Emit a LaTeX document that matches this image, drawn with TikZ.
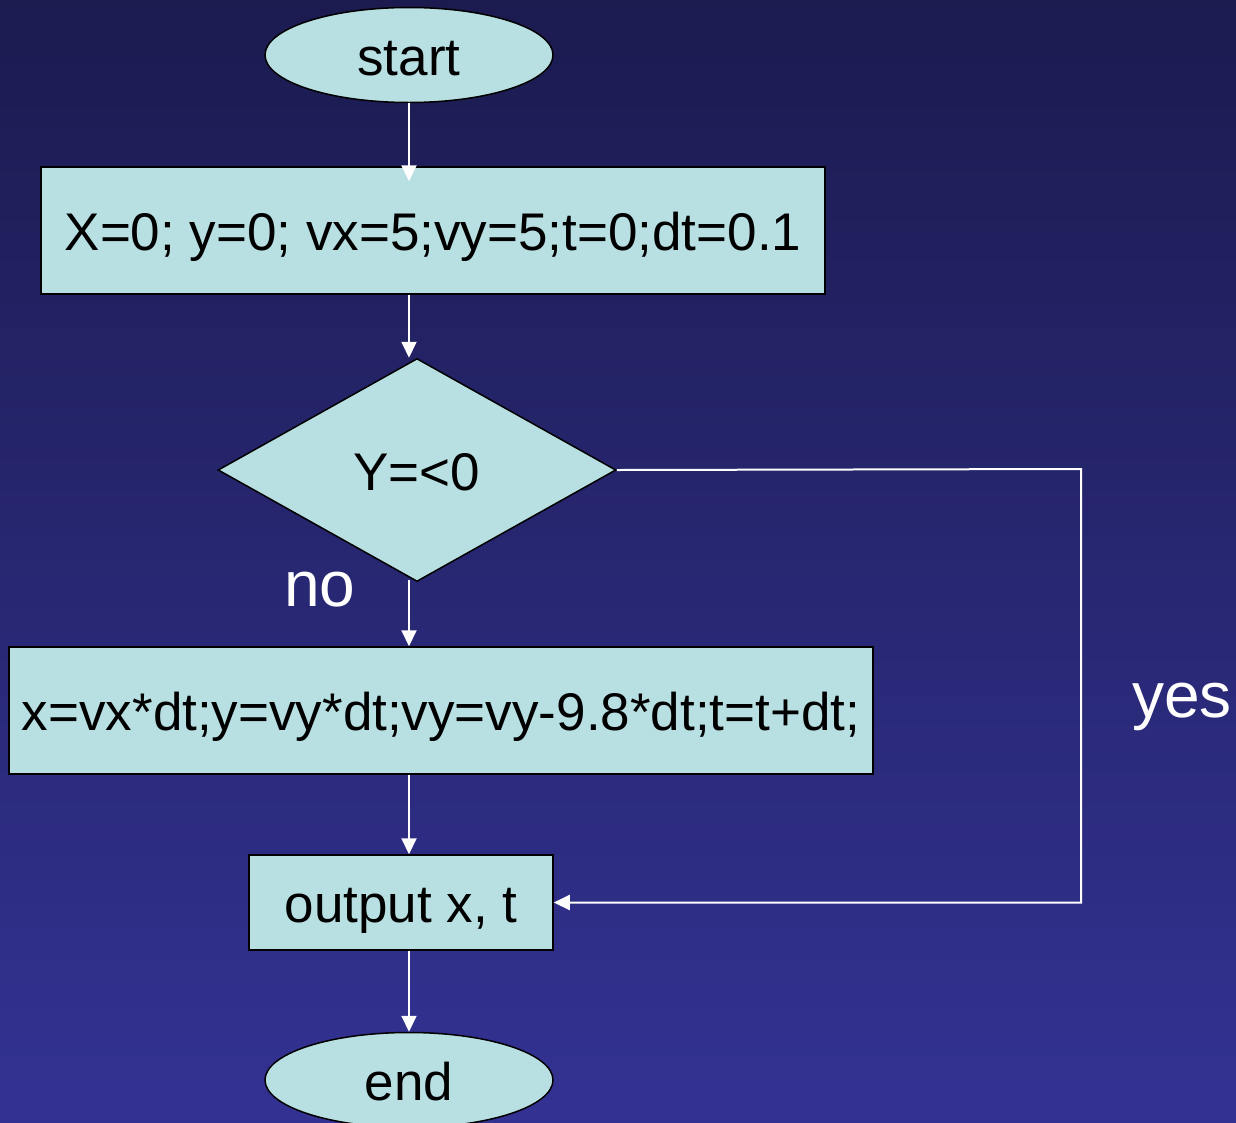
\documentclass[tikz,border=0pt]{standalone}
\usepackage{fontspec}
\setmainfont{Liberation Sans}
\usepackage{tikz}
\usetikzlibrary{arrows.meta,shapes.geometric}
\definecolor{bgtop}{RGB}{27,27,80}
\definecolor{bgbottom}{RGB}{51,50,147}
\definecolor{boxfill}{RGB}{184,224,227}
\begin{document}
\begin{tikzpicture}[x=1pt,y=-1pt,
		block/.style={draw=black,line width=1.5pt,fill=boxfill,inner sep=0pt,text height=40pt,text depth=0pt,font=\fontsize{53}{60}\selectfont},
		term/.style={block,ellipse,minimum width=288pt,minimum height=95pt},
		proc/.style={block,rectangle},
		decide/.style={block,diamond,minimum width=398pt,minimum height=223pt},
		flow/.style={draw=white,line width=2pt,-{Triangle[width=15pt,length=16pt]}},
		lbl/.style={text=white,font=\fontsize{64}{70}\selectfont,inner sep=0pt}]
		% background
		\shade[top color=bgtop,bottom color=bgbottom] (0,0) rectangle (1236,1122);
		\useasboundingbox (0,0) rectangle (1236,1122);
		
		\node[term] (start) at (409,55) {start};
		\node[proc,minimum width=784pt,minimum height=127pt] (init) at (433,230.5) {X=0; y=0; vx=5;vy=5;t=0;dt=0.1};
		\node[decide] (test) at (417,470) {Y=<0};
		\node[proc,minimum width=864pt,minimum height=127pt] (step) at (441,710.5) {x=vx*dt;y=vy*dt;vy=vy-9.8*dt;t=t+dt;};
		\node[proc,minimum width=304pt,minimum height=95pt] (out) at (401,902.5) {output x, t};
		\node[term] (stop) at (409,1080) {end};
		
		\node[lbl] (no) at (320,590) {no};
		\node[lbl] (yes) at (1182,707) {yes};
		\coordinate (turn) at (1081,469);
		
		\draw[flow,shorten >=-15pt] (start.south) -- (start.south |- init.north);
		\draw[flow] (start.south |- init.south) -- (start.south |- test.north);
		\draw[flow] ([yshift=2pt]start.south |- test.south) -- (start.south |- step.north);
		\draw[flow] (start.south |- step.south) -- (start.south |- out.north);
		\draw[flow] (start.south |- out.south) -- (stop.north);
		\draw[flow] (test.east) -- (turn) |- (out.east);
	\end{tikzpicture}
\end{document}
